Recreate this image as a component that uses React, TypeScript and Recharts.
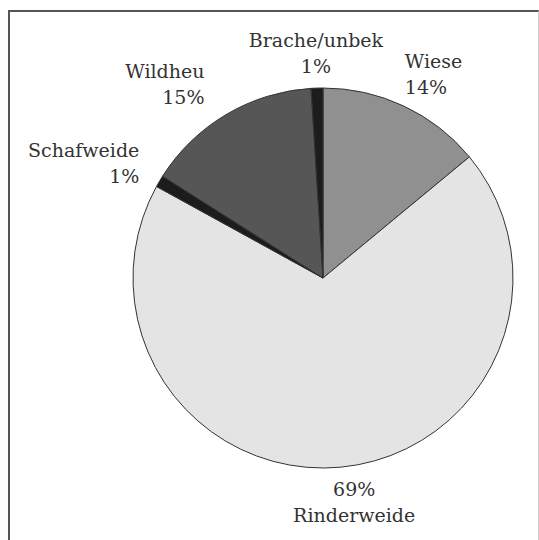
import React from 'react'
import { PieChart, Pie, Cell } from 'recharts'

// clockwise from 12 o'clock
const names = ['Wiese', 'Rinderweide', 'Schafweide', 'Wildheu', 'Brache/unbek']
const values = [14, 69, 1, 15, 1]
const COLORS = ['#909090', '#e4e4e4', '#1c1c1c', '#565656', '#1c1c1c']

const data = names.map((name, i) => ({ name, value: values[i] }))

const FONT = '"DejaVu Serif", serif'

const renderLabel = ({ cx, cy, midAngle, outerRadius, index }: any) => {
  const RADIAN = Math.PI / 180
  const radius = outerRadius + 35
  let x = cx + radius * Math.cos(-midAngle * RADIAN)
  const y = cy + radius * Math.sin(-midAngle * RADIAN)
  const dx = x - cx
  const anchor = dx > 40 ? 'start' : dx < -40 ? 'end' : 'middle'
  if (anchor === 'start') x -= 14
  if (anchor === 'end' && dx < -150) x += 10
  if (anchor === 'end' && dx >= -150) x -= 4
  if (anchor === 'middle' && y > cy) x += 10
  const pct = `${values[index]}%`
  // below the centre the percent goes on top
  const lines = y > cy ? [pct, names[index]] : [names[index], pct]
  return (
    <text x={x} y={y} fill="#333" textAnchor={anchor} fontFamily={FONT} fontSize={19}>
      <tspan x={x} dy={-13} dominantBaseline="central">
        {lines[0]}
      </tspan>
      <tspan x={x} dy={26} dominantBaseline="central">
        {lines[1]}
      </tspan>
    </text>
  )
}

export default function App() {
  return (
    <div style={{ position: 'absolute', left: 0, top: 0, width: 539, height: 540, background: '#fff' }}>
      <div
        style={{
          position: 'absolute',
          left: 8,
          top: 10,
          width: 528,
          height: 528,
          borderTop: '2px solid #555',
          borderLeft: '2px solid #555',
          borderRight: '1px solid #ccc',
          borderBottom: '1px solid #ddd',
        }}
      />
      <PieChart
        width={539}
        height={540}
        margin={{ top: 0, right: 0, bottom: 0, left: 0 }}
        style={{ position: 'absolute', left: 0, top: 0 }}
      >
        <Pie
          data={data}
          dataKey="value"
          cx={323}
          cy={278}
          outerRadius={190}
          startAngle={90}
          endAngle={-270}
          stroke="#333"
          strokeWidth={1}
          labelLine={false}
          label={renderLabel}
          isAnimationActive={false}
        >
          {data.map((entry, index) => (
            <Cell key={`cell-${index}`} fill={COLORS[index % COLORS.length]} />
          ))}
        </Pie>
      </PieChart>
    </div>
  )
}
